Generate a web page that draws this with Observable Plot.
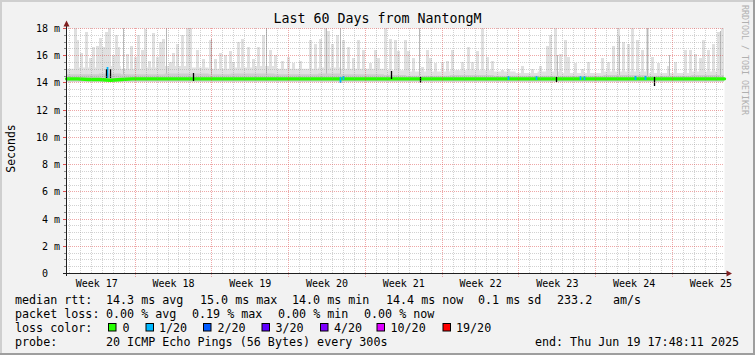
<!DOCTYPE html>
<html><head><meta charset="utf-8">
<script src="https://cdn.jsdelivr.net/npm/d3@7"></script>
<script src="https://cdn.jsdelivr.net/npm/@observablehq/plot@0.6"></script>
<style>
html,body{margin:0;padding:0;background:#f2f2f2;}
svg{display:block;}
</style></head><body><div id="chart"></div>
<script>
// ---------- data ----------
const title = "Last 60 Days from NantongM";
const yAxisTitle = "Seconds";
const watermark = "RRDTOOL / TOBI OETIKER";
const endTime = new Date(Date.UTC(2025, 5, 19, 17, 48, 11));
const spanDays = 60;

const yTickValues = [0, 2, 4, 6, 8, 10, 12, 14, 16, 18];
const yTickLabels = ["0\u00a0\u00a0", "2 m", "4 m", "6 m", "8 m", "10 m", "12 m", "14 m", "16 m", "18 m"];

const weekLabels = ["Week 17","Week 18","Week 19","Week 20","Week 21","Week 22","Week 23","Week 24","Week 25"];
const weekLabelDates = ["2025-04-23T12:00Z","2025-04-30T12:00Z","2025-05-07T12:00Z","2025-05-14T12:00Z","2025-05-21T12:00Z","2025-05-28T12:00Z","2025-06-04T12:00Z","2025-06-11T12:00Z","2025-06-18T12:00Z"];
const weekStartDates = ["2025-04-27T00:00Z","2025-05-04T00:00Z","2025-05-11T00:00Z","2025-05-18T00:00Z","2025-05-25T00:00Z","2025-06-01T00:00Z","2025-06-08T00:00Z","2025-06-15T00:00Z"];

// median rtt (ms), one value per day from start
const medianDay = [14.3,14.3,14.25,14.25,14.2,14.25,14.3,14.3,14.3,14.3,
  14.3,14.3,14.3,14.3,14.3,14.3,14.3,14.3,14.3,14.3,
  14.3,14.3,14.3,14.3,14.3,14.3,14.3,14.3,14.3,14.3,
  14.3,14.3,14.3,14.3,14.3,14.3,14.3,14.3,14.3,14.3,
  14.3,14.3,14.3,14.3,14.3,14.3,14.3,14.3,14.3,14.3,
  14.3,14.3,14.3,14.3,14.3,14.3,14.3,14.3,14.3,14.3,14.3];

// continuous smoke band tops (ms), every 2 days
const smokeDays =  [0,2,4,6,8,10,12,14,16,18,20,22,24,26,28,30,32,34,36,38,40,42,44,46,48,50,52,54,56,58,60];
const smokeOuter = [15.0,15.1,15.2,15.0,15.1,15.2,15.1,15.0,15.1,15.2,15.0,15.0,15.1,15.0,15.0,14.9,14.8,14.8,14.9,14.9,14.8,14.7,14.8,14.7,14.7,14.8,14.8,14.7,14.7,14.8,14.8];
const smokeInner = [14.6,14.6,14.65,14.6,14.6,14.65,14.65,14.6,14.65,14.65,14.6,14.6,14.65,14.6,14.6,14.55,14.5,14.5,14.55,14.55,14.5,14.5,14.5,14.5,14.5,14.55,14.55,14.5,14.5,14.55,14.55];
const smokeLow = 14.05;

// individual smoke spikes: day offset from start, top (ms)
const spikeDay = [0.82,1.00,1.37,1.82,2.19,2.46,2.83,3.10,3.37,3.65,3.92,4.29,4.56,4.74,5.56,5.93,6.29,6.57,6.93,7.20,7.57,7.93,8.30,8.57,8.84,9.48,9.76,10.12,10.58,11.03,11.31,11.94,12.49,13.13,13.59,14.04,14.50,14.95,15.23,15.68,16.05,16.60,17.05,17.51,17.96,18.60,19.06,19.70,20.24,20.70,21.34,22.25,22.70,23.16,23.62,23.89,24.25,24.71,25.26,25.71,26.17,26.63,27.08,27.72,28.18,28.45,29.09,29.54,30.00,30.27,30.91,31.18,31.64,32.46,32.92,33.19,33.65,34.28,34.74,35.20,35.65,36.11,36.66,37.02,37.48,37.93,38.39,38.85,39.76,40.30,41.58,42.49,43.22,43.86,44.13,44.59,45.04,45.50,45.77,46.41,47.05,47.60,48.87,49.42,49.88,50.33,50.79,51.24,51.61,52.06,52.52,52.97,53.43,53.98,54.89,55.53,56.44,56.90,57.36,57.81,58.09,58.54,59.00,59.46,59.83];
const spikeTop = [18.0,17.1,16.2,17.7,15.8,16.6,16.7,17.3,16.6,17.7,18.0,16.0,17.5,16.6,16.1,16.7,15.9,17.5,16.4,17.9,15.6,17.6,15.9,17.0,17.2,15.5,16.2,16.8,17.5,18.0,18.0,16.4,15.7,17.1,15.7,16.2,16.0,16.3,15.5,17.0,17.2,16.6,15.7,16.6,17.5,16.4,16.0,15.6,15.9,15.4,15.6,17.1,16.8,17.2,18.0,17.8,16.8,17.5,17.1,16.6,15.8,17.1,16.4,15.4,16.4,15.8,18.0,17.2,17.1,16.3,17.1,16.3,15.8,15.1,16.4,15.8,15.4,15.5,15.6,16.4,14.9,15.5,16.6,15.5,16.3,18.0,15.9,15.6,14.9,15.0,15.2,15.0,15.2,16.7,17.5,18.0,16.1,17.1,15.9,15.4,15.0,15.5,15.8,15.5,16.7,18.0,17.0,16.8,18.0,17.1,16.4,18.0,15.9,15.4,15.2,15.5,16.4,16.4,16.1,15.8,17.1,16.4,16.8,17.7,18.0];

// darker (dense) spikes
const darkSpikeDay = [5.20,9.12,13.22,18.24,23.71,24.98,32.19,44.77,50.42,52.97,54.98,59.63];
const darkSpikeTop = [18.0,18.0,17.2,18.0,18.0,18.0,18.0,16.0,17.4,18.0,16.0,17.8];

// packet loss marks (1/20 loss): day, low, high (ms)
const lossDay  = [3.78,24.98,25.26,40.30,42.86,46.87,47.23,51.88,52.79];
const lossLow  = [14.3,13.95,14.15,14.15,14.15,14.15,14.15,14.15,14.15];
const lossHigh = [15.1,14.4,14.45,14.45,14.45,14.45,14.45,14.45,14.45];

// median jumps (black)
const jumpDay  = [3.65,3.97,11.58,29.63,32.28,44.68,53.66];
const jumpLow  = [14.3,14.3,14.1,14.25,13.95,14.05,13.75];
const jumpHigh = [15.0,15.0,14.7,14.85,14.4,14.4,14.4];

// legend
const rttRow = ["median rtt:","14.3 ms avg","15.0 ms max","14.0 ms min","14.4 ms now","0.1 ms sd","233.2","am/s"];
const lossRow = ["packet loss:","0.00 % avg","0.19 % max","0.00 % min","0.00 % now"];
const lossColorLabel = "loss color:";
const lossClasses = ["0","1/20","2/20","3/20","4/20","10/20","19/20"];
const lossColors = ["#26ff00","#00b8ff","#0059ff","#5e00ff","#7e00ff","#dd00ff","#ff0000"];
const probeRow = ["probe:","20 ICMP Echo Pings (56 Bytes) every 300s"];
const endLabel = "end: Thu Jun 19 17:48:11 2025";

// ---------- build ----------
const startTime = new Date(+endTime - spanDays * 864e5);
const dayToDate = d => new Date(+startTime + d * 864e5);
const weekStarts = weekStartDates.map(s => new Date(s));
const weekStartSet = new Set(weekStarts.map(d => +d));
const dailyLines = d3.utcDay.range(startTime, endTime).filter(d => !weekStartSet.has(+d));
const minorY = d3.range(0.5, 18, 0.5).filter(v => v % 2 !== 0);
const majorY = yTickValues.filter(v => v > 0);

const smoke = smokeDays.map((d, i) => ({t: dayToDate(d), lo: smokeLow, outer: smokeOuter[i], inner: smokeInner[i]}));
const spikes = spikeDay.map((d, i) => ({t: dayToDate(d), top: spikeTop[i]}));
const darkSpikes = darkSpikeDay.map((d, i) => ({t: dayToDate(d), top: darkSpikeTop[i]}));
const median = medianDay.map((v, i) => ({t: dayToDate(i), v}));
const losses = lossDay.map((d, i) => ({t: dayToDate(d), lo: lossLow[i], hi: lossHigh[i]}));
const jumps = jumpDay.map((d, i) => ({t: dayToDate(d), lo: jumpLow[i], hi: jumpHigh[i]}));
const weekTicks = weekLabelDates.map((s, i) => ({t: new Date(s), label: weekLabels[i]}));
const yTicks = yTickValues.map((v, i) => ({v, label: yTickLabels[i]}));

const gridMinor = "rgba(143,143,143,0.4)";
const gridMajor = "rgba(222,79,79,0.5)";

const plot = Plot.plot({
  width: 755, height: 355,
  marginLeft: 66, marginRight: 31, marginTop: 28, marginBottom: 82,
  style: {background: "#f2f2f2", fontFamily: "DejaVu Sans Mono", fontSize: "10px", color: "#000", overflow: "visible"},
  x: {type: "utc", domain: [startTime, endTime], axis: null},
  y: {domain: [0, 18], axis: null},
  marks: [
    Plot.frame({fill: "white", stroke: "none"}),
    // smoke
    Plot.areaY(smoke, {x: "t", y1: "lo", y2: "outer", fill: "#e2e2e2", curve: "step"}),
    Plot.ruleX(spikes, {x: "t", y1: 14.3, y2: "top", stroke: "#e0e0e0", strokeWidth: 3}),
    Plot.ruleX(darkSpikes, {x: "t", y1: 14.3, y2: "top", stroke: "#b8b8b8", strokeWidth: 1}),
    Plot.areaY(smoke, {x: "t", y1: "lo", y2: "inner", fill: "#cdcdcd", curve: "step"}),
    // median
    Plot.line(median, {x: "t", y: "v", stroke: lossColors[0], strokeWidth: 3.4}),
    Plot.ruleX(losses, {x: "t", y1: "lo", y2: "hi", stroke: lossColors[1], strokeWidth: 1.8}),
    Plot.ruleX(jumps, {x: "t", y1: "lo", y2: "hi", stroke: "#000", strokeWidth: 1.3}),
    // grid
    Plot.ruleY(minorY, {stroke: gridMinor, strokeDasharray: "1,1"}),
    Plot.ruleX(dailyLines, {y1: 0, y2: 18, stroke: gridMinor, strokeDasharray: "1,1"}),
    Plot.ruleY(majorY, {stroke: gridMajor, strokeDasharray: "1,1"}),
    Plot.ruleX(weekStarts, {y1: -0.28, y2: 18, stroke: gridMajor, strokeDasharray: "1,1"}),
    // tick labels
    Plot.text(weekTicks, {x: "t", y: 0, text: "label", dy: 10.3, fontSize: 10, fill: "#000"}),
    Plot.text(yTicks, {x: startTime, y: "v", text: "label", dx: -6.5, dy: 0.3, textAnchor: "end", fontSize: 10, fill: "#000"})
  ]
});

const svg = d3.select(plot);
// snap rule lines to whole pixels for crisp rendering
svg.selectAll('g[aria-label="rule"] line').each(function() {
  const el = d3.select(this);
  for (const a of ["x1", "x2", "y1", "y2"]) {
    const v = el.attr(a);
    if (v != null) el.attr(a, Math.round(+v));
  }
});

const xs = plot.scale("x"), ys = plot.scale("y");
const x0 = Math.round(xs.apply(startTime)), x1 = Math.round(xs.apply(endTime));
const y0 = Math.round(ys.apply(0)), yTop = Math.round(ys.apply(18));

// y-axis ticks
for (const v of d3.range(0, 18.01, 0.5)) {
  const yy = Math.round(ys.apply(v)) + 0.5;
  const major = v % 2 === 0;
  svg.append("line").attr("x1", x0 - (major ? 3 : 2)).attr("x2", x0).attr("y1", yy).attr("y2", yy)
    .attr("stroke", major ? "#de4f4f" : "#8f8f8f").attr("stroke-width", 1);
}
// axes
svg.append("line").attr("x1", x0 + 0.5).attr("x2", x0 + 0.5).attr("y1", y0 + 3).attr("y2", yTop - 2)
  .attr("stroke", "#1f1f1f").attr("stroke-width", 1);
svg.append("line").attr("x1", x0 - 3).attr("x2", x1 + 3).attr("y1", y0 + 0.5).attr("y2", y0 + 0.5)
  .attr("stroke", "#1f1f1f").attr("stroke-width", 1);
svg.append("path").attr("d", `M${x0 - 2.5},${yTop - 1.5}L${x0 + 3.5},${yTop - 1.5}L${x0 + 0.5},${yTop - 7.5}Z`).attr("fill", "#801f1f");
svg.append("path").attr("d", `M${x1 + 2.5},${y0 - 2.5}L${x1 + 2.5},${y0 + 3.5}L${x1 + 8},${y0 + 0.5}Z`).attr("fill", "#801f1f");

// title
svg.append("text").attr("x", 377.5).attr("y", 23).attr("text-anchor", "middle")
  .attr("font-family", "DejaVu Sans Mono").attr("font-size", 13.3).attr("fill", "#000").text(title);
// y axis title
svg.append("text").attr("transform", "translate(11,148.5) rotate(-90)").attr("text-anchor", "middle")
  .attr("dominant-baseline", "central").attr("font-family", "DejaVu Sans Mono").attr("font-size", 11.5)
  .attr("fill", "#000").text(yAxisTitle);
// watermark
svg.append("text").attr("transform", "translate(744.5,5) rotate(90)").attr("text-anchor", "start")
  .attr("dominant-baseline", "central").attr("font-family", "DejaVu Sans Mono").attr("font-size", 8.3)
  .attr("fill", "#b0b0b0").text(watermark);

// legend
const lf = {family: "DejaVu Sans Mono", size: 11.7};
function ltext(x, y, s, anchor) {
  svg.append("text").attr("x", x).attr("y", y).attr("text-anchor", anchor || "start")
    .attr("font-family", lf.family).attr("font-size", lf.size).attr("fill", "#000")
    .attr("xml:space", "preserve").text(s);
}
const rttX = [15, 106, 200, 292, 386, 478, 557, 613];
rttRow.forEach((s, i) => ltext(rttX[i], 303.5, s));
const lossX = [15, 106, 192, 278, 364];
lossRow.forEach((s, i) => ltext(lossX[i], 317.5, s));
ltext(15, 331.5, lossColorLabel);
const boxX = [108.5, 146, 203.5, 262, 320.5, 377, 443];
const boxTxtX = [122.5, 159, 217.5, 275.5, 334, 390.5, 456];
lossClasses.forEach((s, i) => {
  svg.append("rect").attr("x", boxX[i]).attr("y", 323.5).attr("width", 7.5).attr("height", 7.5)
    .attr("fill", lossColors[i]).attr("stroke", "#000").attr("stroke-width", 1);
  ltext(boxTxtX[i], 331.5, s);
});
ltext(15, 345.5, probeRow[0]);
ltext(106, 345.5, probeRow[1]);
ltext(739, 345.5, endLabel, "end");

// 3D border
svg.append("rect").attr("x", 0).attr("y", 0).attr("width", 755).attr("height", 2).attr("fill", "#cfcfcf");
svg.append("rect").attr("x", 0).attr("y", 0).attr("width", 2).attr("height", 355).attr("fill", "#cfcfcf");
svg.append("rect").attr("x", 0).attr("y", 353).attr("width", 755).attr("height", 2).attr("fill", "#9e9e9e");
svg.append("rect").attr("x", 753).attr("y", 0).attr("width", 2).attr("height", 355).attr("fill", "#9e9e9e");

document.getElementById("chart").appendChild(plot);
</script>
</body></html>
